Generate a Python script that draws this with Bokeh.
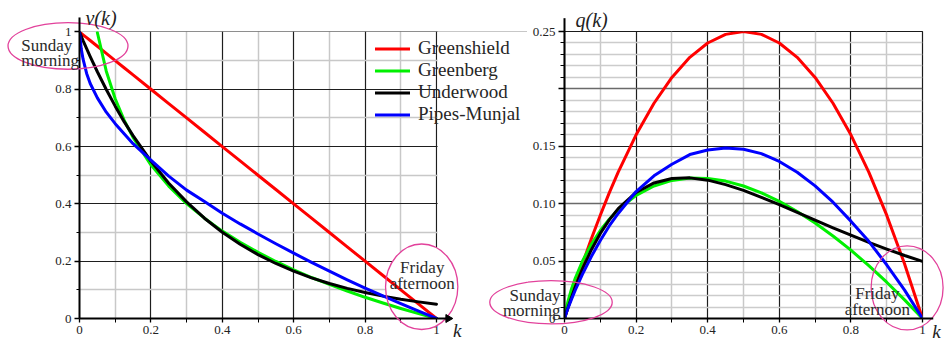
import math
from bokeh.plotting import figure
from bokeh.models import (Range1d, FixedTicker, Grid, Legend, LegendItem, ColumnDataSource)
from bokeh.core.properties import value
from bokeh.layouts import row
from bokeh.embed import file_html
from bokeh.resources import INLINE

NaN = float("nan")

# ---------------- data ----------------
K = [0, 0.005, 0.01, 0.02, 0.03, 0.05, 0.075, 0.1, 0.125, 0.15, 0.2, 0.25, 0.3, 0.35,
     0.4, 0.45, 0.5, 0.55, 0.6, 0.65, 0.7, 0.75, 0.8, 0.85, 0.9, 0.95, 1]

V_GREENSHIELD = [1, 0.995, 0.99, 0.98, 0.97, 0.95, 0.925, 0.9, 0.875, 0.85, 0.8, 0.75, 0.7, 0.65,
                 0.6, 0.55, 0.5, 0.45, 0.4, 0.35, 0.3, 0.25, 0.2, 0.15, 0.1, 0.05, 0]
V_GREENBERG = [NaN, NaN, NaN, NaN, NaN, 0.998, 0.863, 0.767, 0.692, 0.632, 0.536, 0.462, 0.401, 0.350,
               0.305, 0.266, 0.231, 0.199, 0.170, 0.143, 0.119, 0.096, 0.074, 0.054, 0.035, 0.017, 0]
V_UNDERWOOD = [1, 0.985, 0.970, 0.942, 0.914, 0.861, 0.799, 0.741, 0.687, 0.638, 0.549, 0.472, 0.407, 0.350,
               0.301, 0.259, 0.223, 0.192, 0.165, 0.142, 0.122, 0.105, 0.091, 0.078, 0.067, 0.058, 0.050]
V_PIPES = [1, 0.94, 0.905, 0.855, 0.82, 0.77, 0.72, 0.68, 0.645, 0.61, 0.553, 0.497, 0.448, 0.408,
           0.367, 0.330, 0.295, 0.261, 0.228, 0.196, 0.165, 0.135, 0.106, 0.079, 0.052, 0.026, 0]

Q_GREENSHIELD = [0, 0.005, 0.0099, 0.0196, 0.0291, 0.0475, 0.0694, 0.09, 0.1094, 0.1275, 0.16, 0.1875, 0.21, 0.2275,
                 0.24, 0.2475, 0.25, 0.2475, 0.24, 0.2275, 0.21, 0.1875, 0.16, 0.1275, 0.09, 0.0475, 0]
Q_GREENBERG = [0, 0.0088, 0.0153, 0.0261, 0.0350, 0.0499, 0.0647, 0.0767, 0.0865, 0.0948, 0.1072, 0.1154, 0.1203, 0.1224,
               0.1220, 0.1197, 0.1154, 0.1095, 0.1021, 0.0932, 0.0832, 0.0719, 0.0595, 0.0460, 0.0316, 0.0162, 0]
Q_UNDERWOOD = [0, 0.0049, 0.0097, 0.0188, 0.0274, 0.0430, 0.0599, 0.0741, 0.0859, 0.0957, 0.1098, 0.1181, 0.1220, 0.1225,
               0.1205, 0.1166, 0.1116, 0.1055, 0.0992, 0.0924, 0.0857, 0.0790, 0.0726, 0.0664, 0.0605, 0.0549, 0.0498]
Q_PIPES = [0, 0.0047, 0.0091, 0.0171, 0.0246, 0.0385, 0.054, 0.068, 0.0806, 0.0915, 0.1106, 0.1243, 0.1344, 0.1428,
           0.1468, 0.1485, 0.1475, 0.1436, 0.1368, 0.1274, 0.1155, 0.1013, 0.0848, 0.0672, 0.0468, 0.0247, 0]

SERIES = ["Greenshield", "Greenberg", "Underwood", "Pipes-Munjal"]
COLORS = ["#ff0000", "#00f000", "#000000", "#0000ff"]

K_TICKS = [0, 0.2, 0.4, 0.6, 0.8, 1]
K_MINOR = [0.1, 0.3, 0.5, 0.7, 0.9]
K_LABELS = ["0", "0.2", "0.4", "0.6", "0.8", "1"]
V_TICKS = [0, 0.2, 0.4, 0.6, 0.8, 1]
V_MINOR = [0.1, 0.3, 0.5, 0.7, 0.9]
V_LABELS = ["0", "0.2", "0.4", "0.6", "0.8", "1"]
Q_TICKS = [0, 0.05, 0.1, 0.15, 0.2, 0.25]
Q_LABELS = ["0", "0.05", "0.10", "0.15", "", "0.25"]
Q_MINOR = [0.01, 0.02, 0.03, 0.04, 0.06, 0.07, 0.08, 0.09, 0.11, 0.12, 0.13, 0.14,
           0.16, 0.17, 0.18, 0.19, 0.21, 0.22, 0.23, 0.24]
Q_DARK = [0.05, 0.15, 0.25]
Q_GRAY = [0.1, 0.2]

FONT = "Liberation Serif"
TXT = "#2a2a2a"
ELL = "#e2419b"

src = ColumnDataSource(dict(k=K, v0=V_GREENSHIELD, v1=V_GREENBERG, v2=V_UNDERWOOD, v3=V_PIPES,
                            q0=Q_GREENSHIELD, q1=Q_GREENBERG, q2=Q_UNDERWOOD, q3=Q_PIPES))


def style_axes(p, xt, xm, xl, yt, ym, yl, ytick_out, yminor_out):
    p.background_fill_color = "white"
    xa, ya = p.xaxis[0], p.yaxis[0]
    xa.ticker = FixedTicker(ticks=xt, minor_ticks=xm)
    ya.ticker = FixedTicker(ticks=yt, minor_ticks=ym)
    xa.major_label_overrides = dict(zip(xt, xl))
    ya.major_label_overrides = dict(zip(yt, yl))
    for ax in (xa, ya):
        ax.axis_line_width = 2
        ax.axis_line_color = "black"
        ax.major_tick_line_color = "black"
        ax.minor_tick_line_color = "black"
        ax.major_tick_line_width = 1.3
        ax.minor_tick_line_width = 1
        ax.major_tick_in = 0
        ax.minor_tick_in = 0
        ax.major_label_standoff = 3
        ax.major_label_text_font = FONT
        ax.major_label_text_font_size = "13px"
        ax.major_label_text_color = "#222222"
    xa.major_tick_out = 4
    xa.minor_tick_out = 4
    ya.major_tick_out = ytick_out
    ya.minor_tick_out = yminor_out
    p.xgrid.ticker = FixedTicker(ticks=xt, minor_ticks=xm)
    p.xgrid.grid_line_color = "#1e1e1e"
    p.xgrid.grid_line_width = 1.2
    p.xgrid.minor_grid_line_color = "#c8c8c8"
    p.xgrid.minor_grid_line_width = 1.5


def txt(p, xs, ys, texts, align="left", size="17px", style="normal", color=TXT):
    p.text(x=xs, y=ys, text=texts, text_align=value(align), text_baseline=value("alphabetic"),
           text_font=value(FONT), text_font_size=value(size), text_font_style=value(style),
           text_color=color, level="overlay")


def arrows(p, yhead, xright, xhead):
    # axis extensions with small filled arrow heads (outside the frame)
    p.segment(x0=[0, 1], y0=[p.y_range.end, 0], x1=[0, xright], y1=[yhead, 0],
              line_color="black", line_width=2, level="overlay")
    p.scatter(x=[0], y=[yhead], marker="triangle", size=8, angle=0,
              fill_color="black", line_color="black", level="overlay")
    p.scatter(x=[xhead], y=[0], marker="triangle", size=8, angle=-math.pi / 2,
              fill_color="black", line_color="black", level="overlay")


# ---------------- left: v(k) ----------------
p1 = figure(width=527, height=341, x_range=Range1d(0, 1.2549), y_range=Range1d(0, 1.0015),
            output_backend="svg", toolbar_location=None,
            min_border_left=79, min_border_right=0, min_border_top=31, min_border_bottom=23)
p1.border_fill_color = "white"
p1.outline_line_color = None
style_axes(p1, K_TICKS, K_MINOR, K_LABELS, V_TICKS, V_MINOR, V_LABELS, 5, 3)
p1.xaxis.bounds = (0, 1)
p1.ygrid.ticker = FixedTicker(ticks=V_TICKS, minor_ticks=V_MINOR)
p1.ygrid.grid_line_color = "#1e1e1e"
p1.ygrid.grid_line_width = 1.2
p1.ygrid.minor_grid_line_color = "#c8c8c8"
p1.ygrid.minor_grid_line_width = 1.5

# blank strip right of k = 1 (room for the legend), and white interior of the call-outs
p1.quad(left=[1.003], right=[1.3], bottom=[-0.1], top=[1.1], fill_color="white", line_color=None)
p1.ellipse(x=[-0.0322, 0.9585], y=[0.951, 0.1108], width=[0.336, 0.2025], height=[0.1624, 0.2986],
           fill_color="white", line_color=None)

r1 = []
for i in range(4):
    r1.append(p1.line("k", "v%d" % i, source=src, line_color=COLORS[i], line_width=3,
                      line_join="round", line_cap="round"))

p1.ellipse(x=[-0.0322, 0.9585], y=[0.951, 0.1108], width=[0.336, 0.2025], height=[0.1624, 0.2986],
           fill_color=None, line_color=ELL, line_width=1.3, level="overlay")

txt(p1, [-0.163, -0.163], [0.951, 0.899], ["Sunday", "morning"])
txt(p1, [0.96, 0.96], [0.1787, 0.1209], ["Friday", "afternoon"], align="center")
txt(p1, [0.0168], [1.049], ["v(k)"], size="20px", style="italic", color="#222222")
txt(p1, [1.046], [-0.0436], ["k"], size="19px", style="italic", color="#222222")
arrows(p1, 1.0505, 1.033, 1.0328)

legend = Legend(items=[LegendItem(label=SERIES[i], renderers=[r1[i]]) for i in range(4)],
                location=(296, 193), label_text_font=FONT, label_text_font_size="19px",
                label_text_color="#262626", glyph_width=35, glyph_height=19, label_height=19,
                spacing=-3, padding=0, margin=0, label_standoff=8,
                border_line_color=None, background_fill_alpha=0)
p1.add_layout(legend)

# ---------------- right: q(k) ----------------
p2 = figure(width=456, height=341, x_range=Range1d(0, 1), y_range=Range1d(0, 0.25),
            output_backend="svg", toolbar_location=None,
            min_border_left=75, min_border_right=23, min_border_top=30, min_border_bottom=23,
            styles={"margin-left": "-38px"})
p2.border_fill_color = None
p2.border_fill_alpha = 0
p2.outline_line_color = "#1a1a1a"
p2.outline_line_width = 1.2
style_axes(p2, K_TICKS, K_MINOR, K_LABELS, Q_TICKS, Q_MINOR, Q_LABELS, 6, 4)
p2.ygrid.ticker = FixedTicker(ticks=Q_DARK, minor_ticks=Q_MINOR)
p2.ygrid.grid_line_color = "#1e1e1e"
p2.ygrid.grid_line_width = 1.2
p2.ygrid.minor_grid_line_color = "#cccccc"
p2.ygrid.minor_grid_line_width = 1.5
g2 = Grid(dimension=1, ticker=FixedTicker(ticks=Q_GRAY), grid_line_color="#6a6a6a", grid_line_width=1.6)
p2.add_layout(g2)

for i in range(4):
    p2.line("k", "q%d" % i, source=src, line_color=COLORS[i], line_width=3,
            line_join="round", line_cap="round")

p2.ellipse(x=[-0.0377, 0.957], y=[0.01415, 0.0267], width=[0.342, 0.201], height=[0.0376, 0.0732],
           fill_color=None, line_color=ELL, line_width=1.3, level="overlay")

txt(p2, [-0.0112, -0.0112], [0.020, 0.00694], ["Sunday", "morning"], align="right")
txt(p2, [0.874, 0.874], [0.0214, 0.0078], ["Friday", "afternoon"], align="center")
txt(p2, [0.0307], [0.2604], ["q(k)"], size="20px", style="italic", color="#222222")
txt(p2, [1.027], [-0.0109], ["k"], size="19px", style="italic", color="#222222")
arrows(p2, 0.2616, 1.03, 1.0335)

layout = row(p1, p2)
with open("out.html", "w") as f:
    f.write(file_html(layout, INLINE, title="v(k) and q(k)"))
